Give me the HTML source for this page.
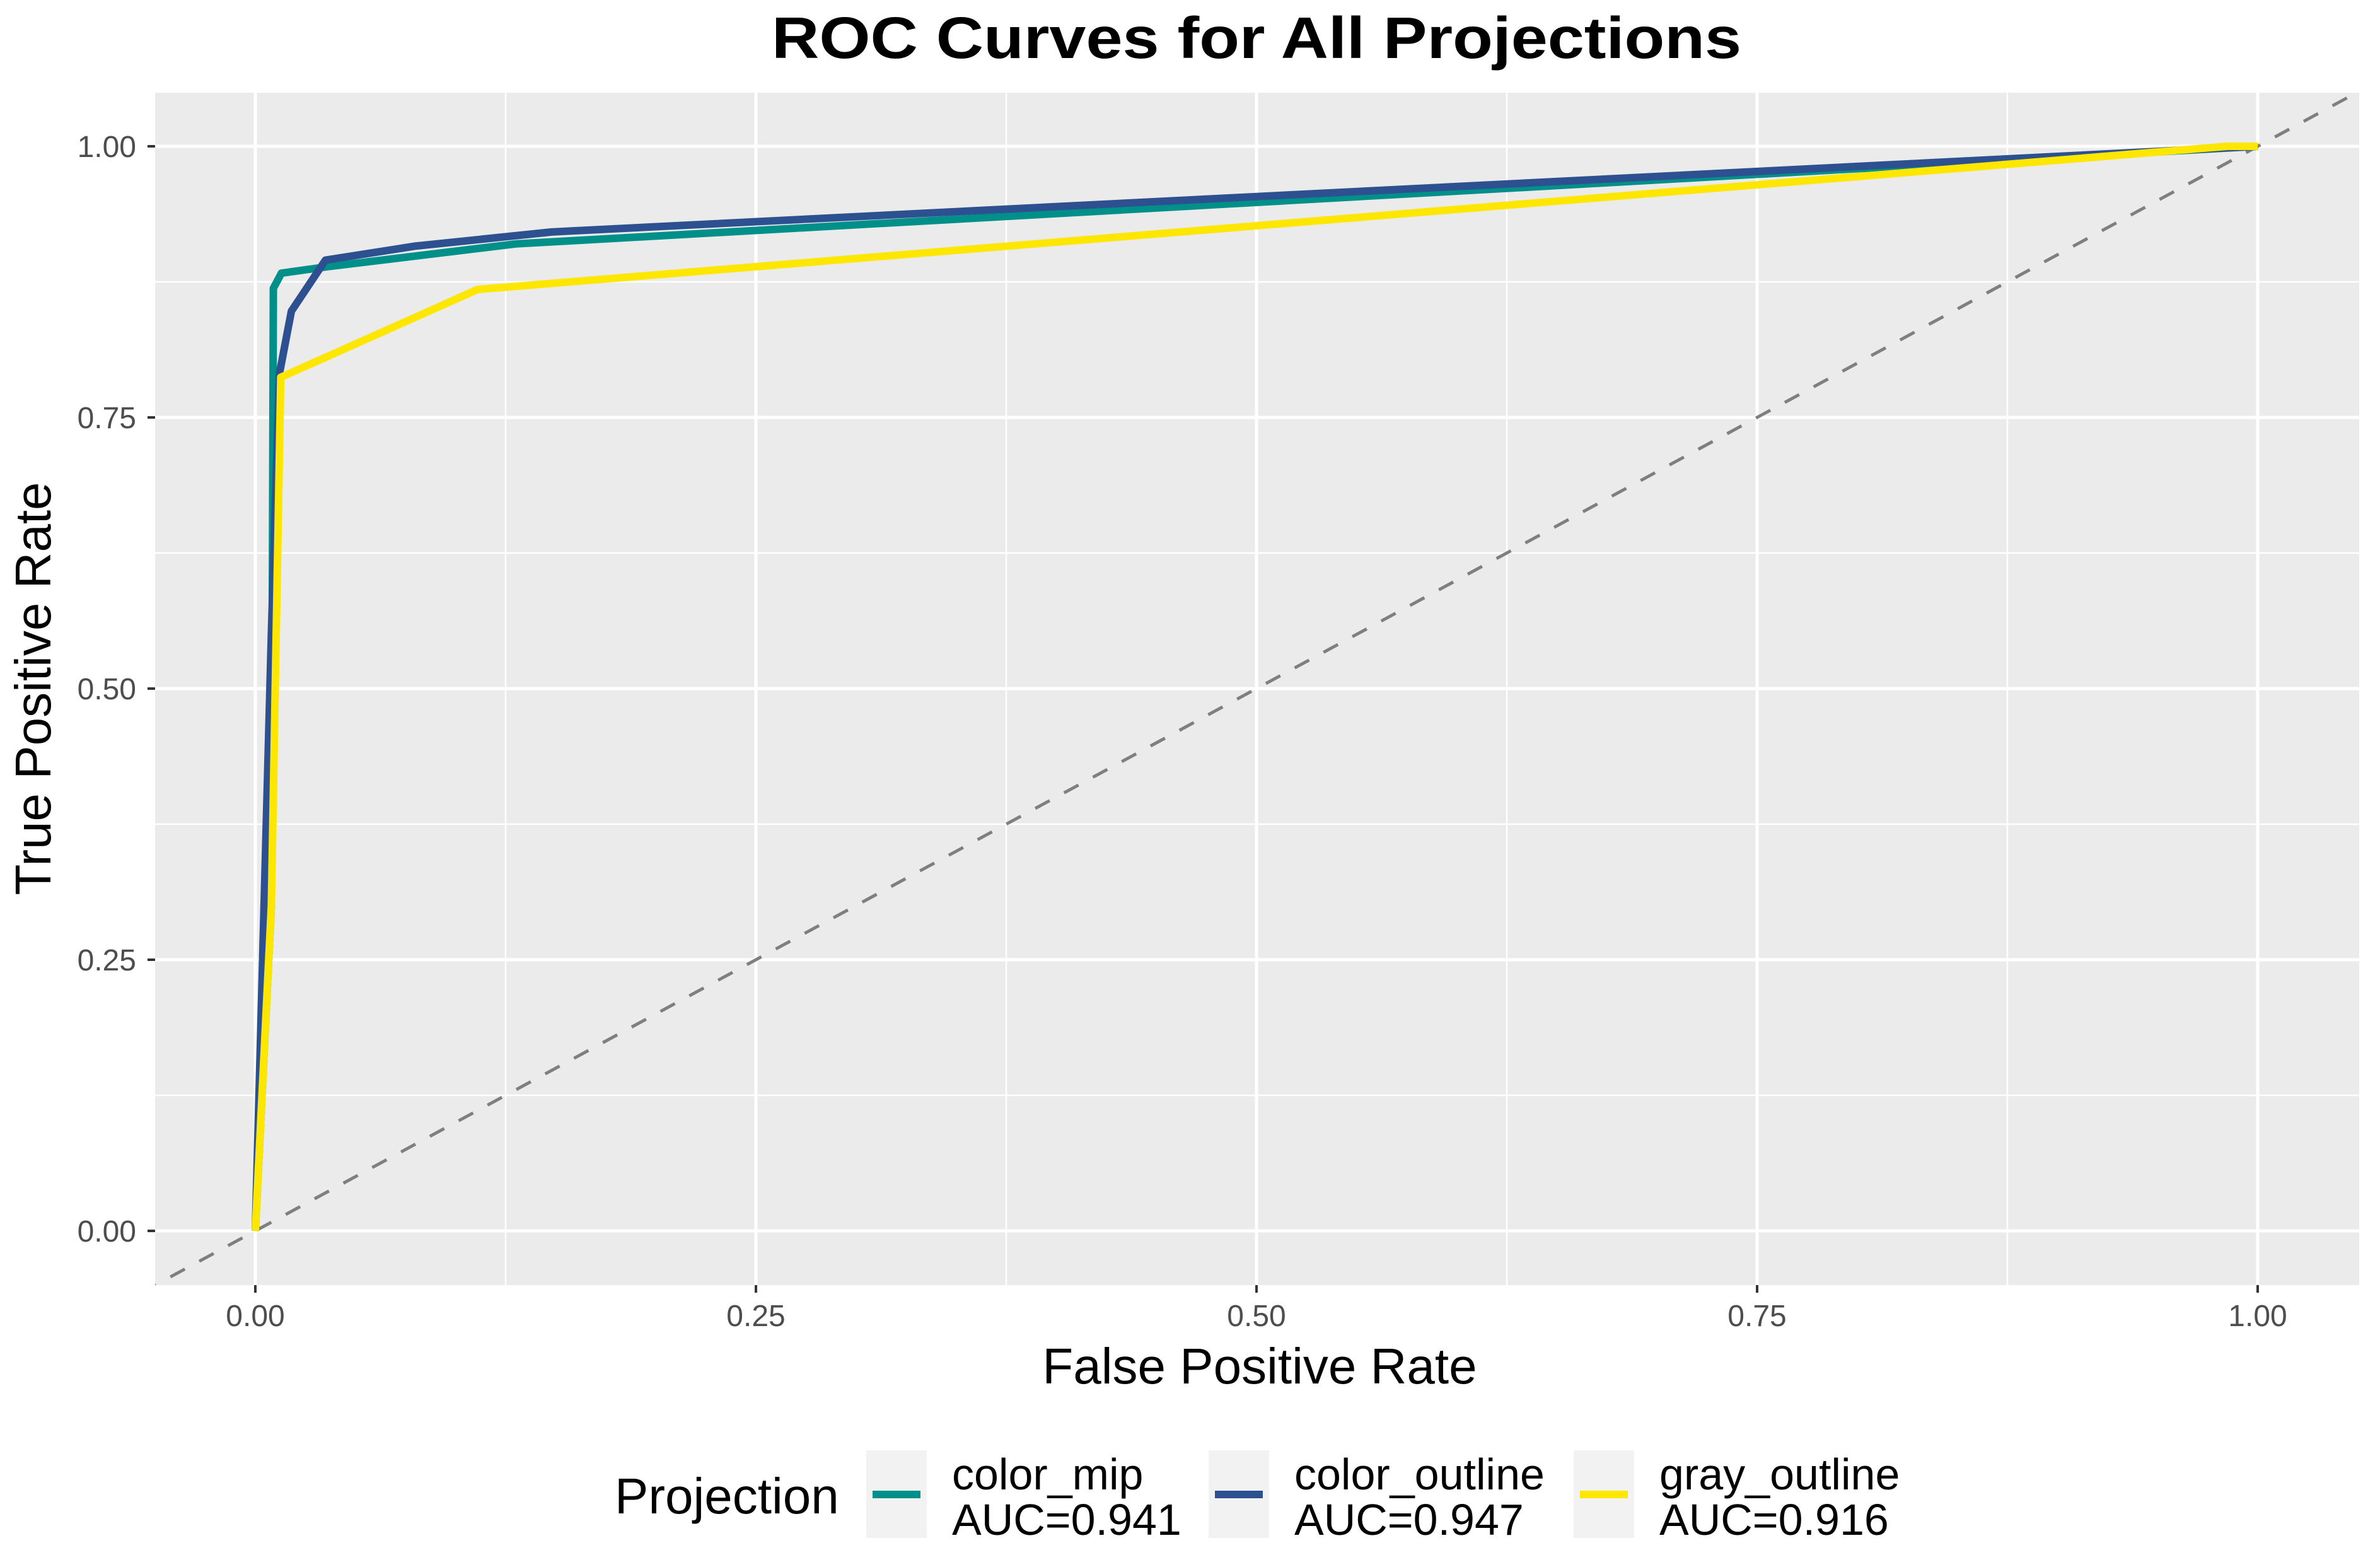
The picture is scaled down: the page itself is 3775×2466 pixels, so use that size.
<!DOCTYPE html>
<html><head><meta charset="utf-8"><style>
html,body{margin:0;padding:0;background:#fff;}
svg{display:block;font-family:"Liberation Sans",sans-serif;}
</style></head><body>
<svg id="chart" width="3775" height="2466" viewBox="0 0 3775 2466" xmlns="http://www.w3.org/2000/svg">
<text x="1993" y="92" text-anchor="middle" font-size="93" font-weight="bold" fill="#000" textLength="1538" lengthAdjust="spacingAndGlyphs">ROC Curves for All Projections</text>
<defs><clipPath id="pc"><rect x="246" y="147" width="3496" height="1891"/></clipPath></defs>
<rect x="246" y="147" width="3496" height="1891" fill="#EBEBEB"/>
<g id="grid"></g>
<g id="marks" clip-path="url(#pc)"></g>
<g id="axes"></g>
<text x="1998" y="2194" text-anchor="middle" font-size="80" fill="#000">False Positive Rate</text>
<text transform="translate(80,1092) rotate(-90)" text-anchor="middle" font-size="80" fill="#000">True Positive Rate</text>
<g id="legend">
<text x="975" y="2400" font-size="80" fill="#000">Projection</text>
</g>
</svg>
<script>
const seriesNames = ["color_mip", "color_outline", "gray_outline"];
const seriesAUC = ["AUC=0.941", "AUC=0.947", "AUC=0.916"];
const seriesColors = ["#009089", "#2D5090", "#FDE600"];
const mipFPR = [0, 0.008, 0.009, 0.013, 0.036, 0.13, 1];
const mipTPR = [0, 0.3, 0.869, 0.883, 0.889, 0.91, 1];
const outlineFPR = [0, 0.008, 0.012, 0.018, 0.035, 0.08, 0.148, 1];
const outlineTPR = [0, 0.55, 0.79, 0.848, 0.895, 0.908, 0.921, 1];
const grayFPR = [0, 0.008, 0.0127, 0.111, 0.985, 1];
const grayTPR = [0, 0.3, 0.787, 0.868, 1, 1];
const xTicks = [0, 0.25, 0.5, 0.75, 1];
const xTickLabels = ["0.00", "0.25", "0.50", "0.75", "1.00"];
const yTicks = [0, 0.25, 0.5, 0.75, 1];
const yTickLabels = ["0.00", "0.25", "0.50", "0.75", "1.00"];
const minorTicks = [0.125, 0.375, 0.625, 0.875];

const NS = "http://www.w3.org/2000/svg";
const X = v => 405 + v * 3176;
const Y = v => 1952 - v * 1720;
function mk(tag, attrs, parent) {
  const e = document.createElementNS(NS, tag);
  for (const k in attrs) e.setAttribute(k, attrs[k]);
  parent.appendChild(e);
  return e;
}
const grid = document.getElementById("grid");
const marks = document.getElementById("marks");
const axes = document.getElementById("axes");
const legend = document.getElementById("legend");
const L = 246, R = 3742, T = 147, B = 2038;

minorTicks.forEach(v => {
  let g = mk("line", {x1: X(v), x2: X(v), y1: T, y2: B, stroke: "#fff", "stroke-width": 2.5}, grid);
  
  
  g = mk("line", {x1: L, x2: R, y1: Y(v), y2: Y(v), stroke: "#fff", "stroke-width": 2.5}, grid);
  
  
});
xTicks.forEach((v, i) => {
  const g = mk("line", {x1: X(v), x2: X(v), y1: T, y2: B, stroke: "#fff", "stroke-width": 5}, grid);
  
  
  const t = mk("line", {x1: X(v), x2: X(v), y1: B, y2: B + 12, stroke: "#333", "stroke-width": 4}, axes);
  
  
  const lb = mk("text", {x: X(v), y: 2103, "text-anchor": "middle", "font-size": 48, fill: "#4D4D4D"}, axes);
  lb.textContent = xTickLabels[i];
  
  
});
yTicks.forEach((v, i) => {
  const g = mk("line", {x1: L, x2: R, y1: Y(v), y2: Y(v), stroke: "#fff", "stroke-width": 5}, grid);
  
  
  const t = mk("line", {x1: L - 12, x2: L, y1: Y(v), y2: Y(v), stroke: "#333", "stroke-width": 4}, axes);
  
  
  const lb = mk("text", {x: 216, y: Y(v) + 17, "text-anchor": "end", "font-size": 48, fill: "#4D4D4D"}, axes);
  lb.textContent = yTickLabels[i];
  
  
});

const diag = mk("line", {x1: X(-0.1), y1: Y(-0.1), x2: X(1.1), y2: Y(1.1), stroke: "#7F7F7F", "stroke-width": 5, "stroke-dasharray": "26 26"}, marks);



const allX = [mipFPR, outlineFPR, grayFPR];
const allY = [mipTPR, outlineTPR, grayTPR];
allX.forEach((xs, s) => {
  const pts = xs.map((x, i) => X(x) + "," + Y(allY[s][i])).join(" ");
  const pl = mk("polyline", {points: pts, fill: "none", stroke: seriesColors[s], "stroke-width": 12, "stroke-linejoin": "round"}, marks);
  
  
});

const keyX = [1374, 1917, 2496];
seriesNames.forEach((n, s) => {
  const bg = mk("rect", {x: keyX[s], y: 2300, width: 96, height: 139, fill: "#F2F2F2"}, legend);
  
  
  const ln = mk("line", {x1: keyX[s] + 10, x2: keyX[s] + 86, y1: 2370, y2: 2370, stroke: seriesColors[s], "stroke-width": 12}, legend);
  
  
  const t1 = mk("text", {x: keyX[s] + 136, y: 2362, "font-size": 70, fill: "#000"}, legend);
  t1.textContent = n;
  
  
  const t2 = mk("text", {x: keyX[s] + 136, y: 2434, "font-size": 70, fill: "#000"}, legend);
  t2.textContent = seriesAUC[s];
  
  
});
</script>
</body></html>
